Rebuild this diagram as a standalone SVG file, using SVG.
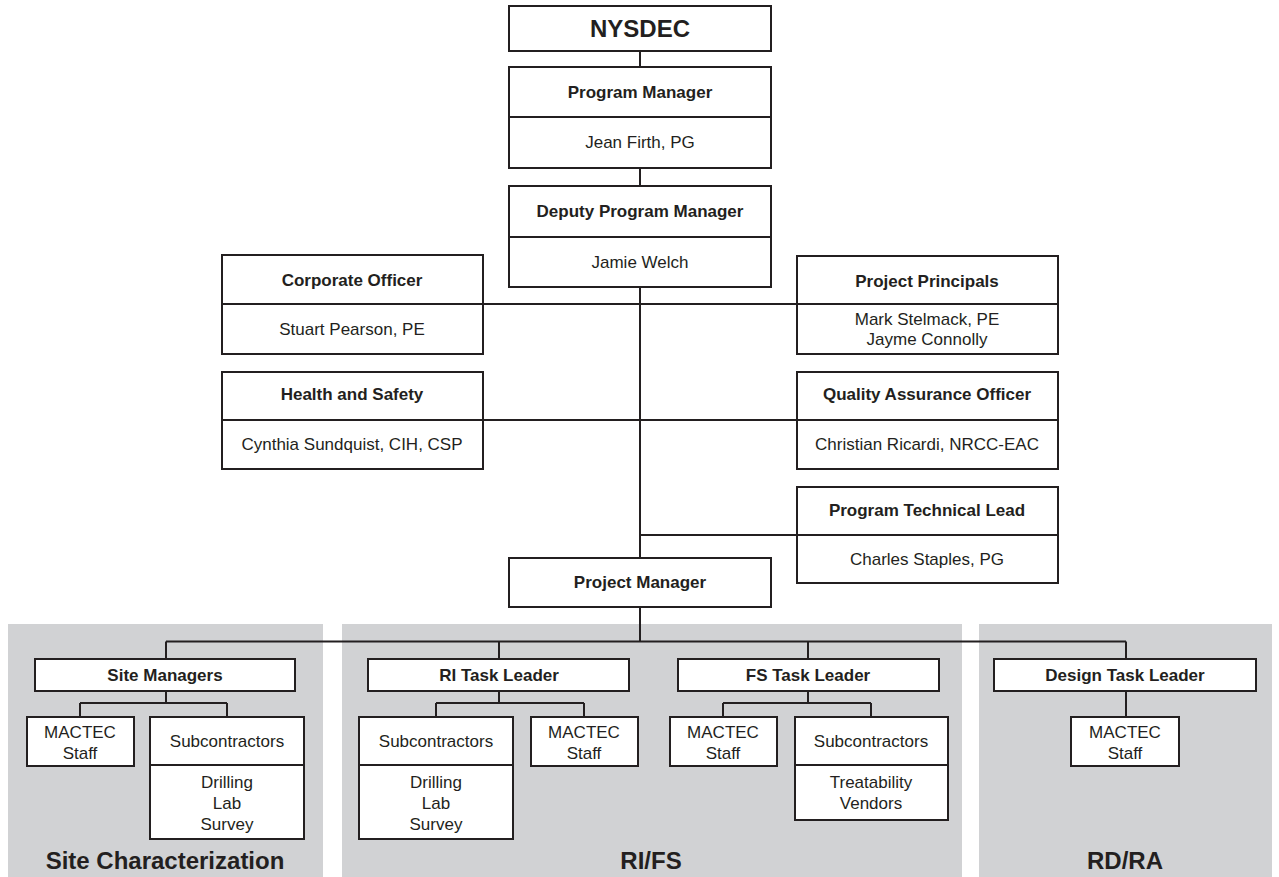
<svg xmlns="http://www.w3.org/2000/svg" width="1279" height="877" viewBox="0 0 1279 877">
<style>
.bg{fill:#ffffff}
.panel{fill:#d1d2d4}
.box{fill:#ffffff;stroke:#231f20;stroke-width:2}
.div{stroke:#231f20;stroke-width:2}
.ln{stroke:#231f20;stroke-width:2;fill:none}
text{font-family:"Liberation Sans",Arial,sans-serif;fill:#231f20;text-anchor:middle;font-size:17px}
.b{font-weight:bold}
.big{font-size:24px;font-weight:bold}
.sec{font-size:24px;font-weight:bold}
</style>
<rect class="bg" x="0" y="0" width="1279" height="877"/>
<g id="panels">
<rect class="panel" x="8" y="624" width="315" height="253"/>
<rect class="panel" x="342" y="624" width="620" height="253"/>
<rect class="panel" x="979" y="624" width="293" height="253"/>
<text class="sec" x="165" y="869">Site Characterization</text>
<text class="sec" x="651" y="869">RI/FS</text>
<text class="sec" x="1125" y="869">RD/RA</text>
</g>
<g id="connectors">
<path class="ln" d="M640 51V67M640 168V186M640 287V558M483 304H797M483 420H797M640 535H797M640 607V641.5M166 641.5H1126M166 641.5V659M499 641.5V659M808 641.5V659M1126 641.5V659"/>
<path class="ln" d="M166 691V703M80 703H227M80 703V717M227 703V717"/>
<path class="ln" d="M499 691V703M436 703H584M436 703V717M584 703V717"/>
<path class="ln" d="M808 691V703M723 703H871M723 703V717M871 703V717"/>
<path class="ln" d="M1126 691V717"/>
</g>
<g id="nysdec">
<rect class="box" x="509" y="6" width="262" height="45"/>
<text class="big" x="640" y="37">NYSDEC</text>
</g>
<g id="program-manager">
<rect class="box" x="509" y="67" width="262" height="101"/>
<line class="div" x1="509" y1="117" x2="771" y2="117"/>
<text class="b" x="640" y="98">Program Manager</text>
<text x="640" y="148">Jean Firth, PG</text>
</g>
<g id="deputy-program-manager">
<rect class="box" x="509" y="186" width="262" height="101"/>
<line class="div" x1="509" y1="237" x2="771" y2="237"/>
<text class="b" x="640" y="217">Deputy Program Manager</text>
<text x="640" y="268">Jamie Welch</text>
</g>
<g id="corporate-officer">
<rect class="box" x="222" y="255" width="261" height="99"/>
<line class="div" x1="222" y1="304" x2="483" y2="304"/>
<text class="b" x="352" y="286">Corporate Officer</text>
<text x="352" y="335">Stuart Pearson, PE</text>
</g>
<g id="health-safety">
<rect class="box" x="222" y="372" width="261" height="97"/>
<line class="div" x1="222" y1="420" x2="483" y2="420"/>
<text class="b" x="352" y="400">Health and Safety</text>
<text x="352" y="450">Cynthia Sundquist, CIH, CSP</text>
</g>
<g id="project-principals">
<rect class="box" x="797" y="256" width="261" height="98"/>
<line class="div" x1="797" y1="304" x2="1058" y2="304"/>
<text class="b" x="927" y="287">Project Principals</text>
<text x="927" y="325">Mark Stelmack, PE</text>
<text x="927" y="345">Jayme Connolly</text>
</g>
<g id="qa-officer">
<rect class="box" x="797" y="372" width="261" height="97"/>
<line class="div" x1="797" y1="420" x2="1058" y2="420"/>
<text class="b" x="927" y="400">Quality Assurance Officer</text>
<text x="927" y="450">Christian Ricardi, NRCC-EAC</text>
</g>
<g id="program-technical-lead">
<rect class="box" x="797" y="487" width="261" height="96"/>
<line class="div" x1="797" y1="535" x2="1058" y2="535"/>
<text class="b" x="927" y="516">Program Technical Lead</text>
<text x="927" y="565">Charles Staples, PG</text>
</g>
<g id="project-manager">
<rect class="box" x="509" y="558" width="262" height="49"/>
<text class="b" x="640" y="588">Project Manager</text>
</g>
<g id="site-managers">
<rect class="box" x="35" y="659" width="260" height="32"/>
<text class="b" x="165" y="681">Site Managers</text>
</g>
<g id="sc-mactec">
<rect class="box" x="27" y="717" width="107" height="49"/>
<text x="80" y="738">MACTEC</text>
<text x="80" y="759">Staff</text>
</g>
<g id="sc-subcontractors">
<rect class="box" x="150" y="717" width="154" height="122"/>
<line class="div" x1="150" y1="765" x2="304" y2="765"/>
<text x="227" y="747">Subcontractors</text>
<text x="227" y="788">Drilling</text>
<text x="227" y="809">Lab</text>
<text x="227" y="830">Survey</text>
</g>
<g id="ri-task-leader">
<rect class="box" x="368" y="659" width="261" height="32"/>
<text class="b" x="499" y="681">RI Task Leader</text>
</g>
<g id="ri-subcontractors">
<rect class="box" x="359" y="717" width="154" height="122"/>
<line class="div" x1="359" y1="765" x2="513" y2="765"/>
<text x="436" y="747">Subcontractors</text>
<text x="436" y="788">Drilling</text>
<text x="436" y="809">Lab</text>
<text x="436" y="830">Survey</text>
</g>
<g id="ri-mactec">
<rect class="box" x="531" y="717" width="107" height="49"/>
<text x="584" y="738">MACTEC</text>
<text x="584" y="759">Staff</text>
</g>
<g id="fs-task-leader">
<rect class="box" x="678" y="659" width="261" height="32"/>
<text class="b" x="808" y="681">FS Task Leader</text>
</g>
<g id="fs-mactec">
<rect class="box" x="670" y="717" width="107" height="49"/>
<text x="723" y="738">MACTEC</text>
<text x="723" y="759">Staff</text>
</g>
<g id="fs-subcontractors">
<rect class="box" x="795" y="717" width="153" height="103"/>
<line class="div" x1="795" y1="765" x2="948" y2="765"/>
<text x="871" y="747">Subcontractors</text>
<text x="871" y="788">Treatability</text>
<text x="871" y="809">Vendors</text>
</g>
<g id="design-task-leader">
<rect class="box" x="994" y="659" width="262" height="32"/>
<text class="b" x="1125" y="681">Design Task Leader</text>
</g>
<g id="design-mactec">
<rect class="box" x="1071" y="717" width="108" height="49"/>
<text x="1125" y="738">MACTEC</text>
<text x="1125" y="759">Staff</text>
</g>
</svg>
